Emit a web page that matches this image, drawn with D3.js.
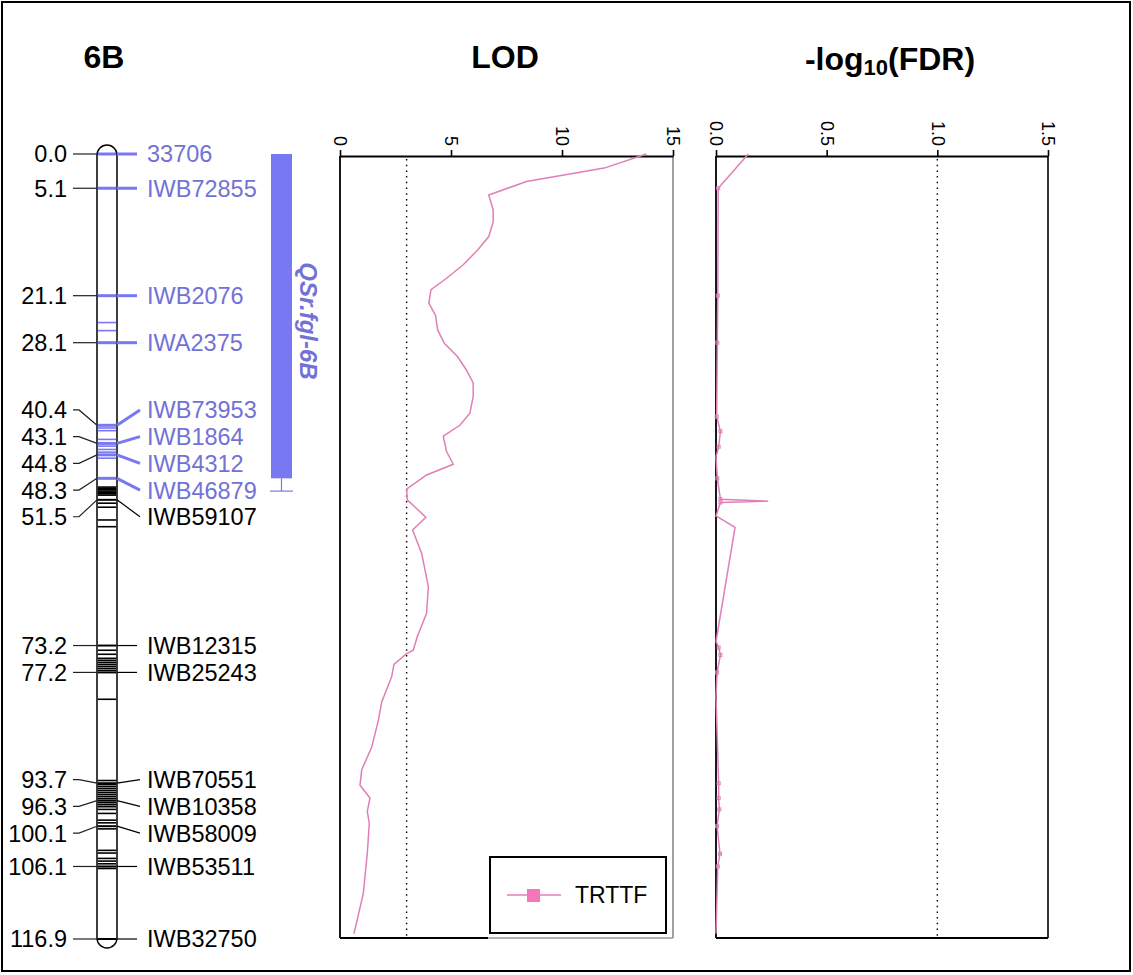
<!DOCTYPE html>
<html><head><meta charset="utf-8">
<script src="https://cdn.jsdelivr.net/npm/d3@7"></script>
<style>body{margin:0;background:#fff} svg{display:block} text{font-family:Arial,"Liberation Sans",sans-serif}</style>
</head><body><svg id="c" width="1133" height="975"></svg>
<script>
// ---------------- data ----------------
const titles = ["6B", "LOD", "-log10(FDR)"];
const markerNames = ["33706","IWB72855","IWB2076","IWA2375","IWB73953","IWB1864","IWB4312","IWB46879","IWB59107","IWB12315","IWB25243","IWB70551","IWB10358","IWB58009","IWB53511","IWB32750"];
const markerCM = [0.0, 5.1, 21.1, 28.1, 40.4, 43.1, 44.8, 48.3, 51.5, 73.2, 77.2, 93.7, 96.3, 100.1, 106.1, 116.9];
const bandCM = [25.1, 26.3, 40.8, 41.2, 42.5, 43.5, 44.0, 44.4, 45.3, 49.6, 49.8, 50.0, 50.2, 50.4, 50.6, 50.8, 52.0, 52.6, 54.5, 55.5,
  73.9, 74.5, 75.1, 75.4, 75.7, 76.0, 76.3, 76.6, 76.9, 81.2,
  93.3, 93.9, 94.2, 94.5, 94.8, 95.1, 95.4, 95.7, 96.0, 96.6, 96.9, 97.2, 97.6, 98.2, 99.2, 99.6, 100.5, 103.7, 104.1, 104.9, 105.3, 105.7, 106.4];
const qtlName = "QSr.fgl-6B";
const qtlStart = 0.0, qtlEnd = 48.3, qtlWhisker = 50.2;
const chromLength = 116.9;

const seriesName = "TRTTF";
const lodCM = [0.0, 2.1, 4.1, 6.1, 8.3, 10.1, 12.3, 14.3, 16.5, 18.5, 20.2, 22.2, 24.0, 26.2, 28.2, 30.2, 32.2, 34.1, 36.1, 38.6, 40.4, 42.0, 44.3, 46.2, 47.8, 49.9, 51.5, 54.1, 56.0, 59.5, 64.4, 68.4, 71.9, 73.9, 74.4, 76.0, 77.8, 81.6, 84.3, 88.3, 91.7, 94.0, 95.9, 97.9, 99.7, 104.1, 110.1, 116.1];
const lodValues = [13.8, 11.9, 8.4, 6.7, 6.9, 6.9, 6.7, 6.2, 5.55, 4.8, 4.1, 4.0, 4.3, 4.4, 4.7, 5.3, 5.7, 6.0, 6.0, 5.85, 5.4, 4.65, 4.8, 5.1, 3.9, 3.0, 3.03, 3.87, 3.27, 3.68, 3.98, 3.9, 3.48, 3.3, 3.0, 2.43, 2.33, 1.88, 1.73, 1.43, 0.98, 0.9, 1.35, 1.23, 1.32, 1.23, 1.05, 0.63];
const fdrCM = [0.0, 5.1, 21.1, 28.1, 39.1, 41.3, 43.6, 45.1, 48.3, 51.4, 51.7, 51.9, 53.9, 55.6, 72.6, 73.5, 74.6, 77.2, 80.8, 93.7, 95.9, 97.6, 100.1, 104.2, 106.1, 116.1];
const fdrValues = [0.146, 0.010, 0.008, 0.006, 0.003, 0.02, 0.012, 0.0, 0.006, 0.02, 0.236, 0.02, 0.0, 0.086, 0.0, 0.012, 0.02, 0.005, 0.0, 0.012, 0.012, 0.015, 0.005, 0.018, 0.008, 0.0];
const lodTicks = [0, 5, 10, 15];
const fdrTicks = [0, 0.5, 1.0, 1.5];
const lodThreshold = 3, fdrThreshold = 1.0;

// ---------------- style / layout ----------------
const BLUE = "#7878f2", BLUE_TXT = "#7272d6", PINK = "#e07fb6", PINK_MK = "#f577b9";
const svg = d3.select("#c");
svg.append("rect").attr("x", 2).attr("y", 2).attr("width", 1128).attr("height", 969)
  .attr("fill", "none").attr("stroke", "#000").attr("stroke-width", 2);

const y = d3.scaleLinear().domain([0, chromLength]).range([154, 939]);
const xLod = d3.scaleLinear().domain([0, 15]).range([340, 673]);
const xFdr = d3.scaleLinear().domain([0, 1.5]).range([716, 1048]);
const panelTop = 156, panelBottom = 938;

// titles
svg.append("text").attr("x", 104).attr("y", 68).attr("text-anchor", "middle")
  .attr("font-size", 32).attr("font-weight", "bold").text(titles[0]);
svg.append("text").attr("x", 505).attr("y", 68).attr("text-anchor", "middle")
  .attr("font-size", 32).attr("font-weight", "bold").text(titles[1]);
const t3 = svg.append("text").attr("x", 890).attr("y", 70).attr("text-anchor", "middle")
  .attr("font-size", 32).attr("font-weight", "bold");
const m = titles[2].match(/^(-log)(10)(.*)$/);
t3.append("tspan").text(m[1]);
t3.append("tspan").attr("font-size", 22).attr("dy", 5).text(m[2]);
t3.append("tspan").attr("dy", -5).text(m[3]);

// ---------------- chromosome ----------------
const cx0 = 97, cx1 = 117;
const g = svg.append("g");
g.append("rect").attr("x", cx0).attr("y", y(0) - 9).attr("width", cx1 - cx0)
  .attr("height", y(chromLength) - y(0) + 18).attr("rx", 10).attr("ry", 10)
  .attr("fill", "#fff").attr("stroke", "#000").attr("stroke-width", 1.5);

// bands
g.selectAll("line.band").data(bandCM).join("line").attr("class", "band")
  .attr("x1", cx0 + 0.8).attr("x2", cx1 - 0.8).attr("y1", d => y(d)).attr("y2", d => y(d))
  .attr("stroke", d => d <= qtlEnd ? BLUE : "#000").attr("stroke-width", 1.6);

// label layout: spread overlapping labels with a minimal gap
const gap = 26.7;
const items = markerCM.map((c, i) => ({ name: markerNames[i], cm: c, y0: y(c), blue: c <= qtlEnd }));
let clusters = items.map(d => ({ items: [d] }));
clusters.forEach(cl => cl.start = cl.items[0].y0);
let changed = true;
while (changed) {
  changed = false;
  for (let i = 0; i < clusters.length - 1; i++) {
    const a = clusters[i], b = clusters[i + 1];
    if (b.start < a.start + (a.items.length) * gap - 0.01) {
      const its = a.items.concat(b.items);
      const mean = d3.mean(its, d => d.y0);
      clusters.splice(i, 2, { items: its, start: mean - (its.length - 1) * gap / 2 });
      changed = true; break;
    }
  }
}
clusters.forEach(cl => cl.items.forEach((d, k) => d.ly = cl.start + k * gap + (cl.items.length > 1 ? 3 : 0)));

const lx = 73, rx = 140;
items.forEach(d => {
  const col = d.blue ? BLUE : "#000";
  g.append("path").attr("fill", "none").attr("stroke", "#222").attr("stroke-width", 1.2)
    .attr("d", Math.abs(d.ly - d.y0) < 1 ? `M${lx},${d.y0}H${cx0}` : `M${lx},${d.ly}H${lx + 6}L${cx0},${d.y0}`);
  g.append("line").attr("x1", cx0 + 0.8).attr("x2", cx1 - 0.8).attr("y1", d.y0).attr("y2", d.y0)
    .attr("stroke", col).attr("stroke-width", d.blue ? 3 : 2);
  g.append("path").attr("fill", "none").attr("stroke", col).attr("stroke-width", d.blue ? 3 : 1.2)
    .attr("d", Math.abs(d.ly - d.y0) < 1 ? `M${cx1},${d.y0}H${rx - 3}` : `M${cx1},${d.y0}L${rx},${d.ly}`);
  g.append("text").attr("x", 67).attr("y", d.ly).attr("dy", "0.36em").attr("text-anchor", "end")
    .attr("font-size", 23.5).attr("fill", "#000").text(d3.format(".1f")(d.cm));
  g.append("text").attr("x", 147).attr("y", d.ly).attr("dy", "0.36em")
    .attr("font-size", 23.5).attr("fill", d.blue ? BLUE_TXT : "#000").text(d.name);
});

// QTL bar
const qx = 271, qw = 21;
g.append("rect").attr("x", qx).attr("y", y(qtlStart)).attr("width", qw)
  .attr("height", y(qtlEnd) - y(qtlStart)).attr("fill", BLUE);
g.append("line").attr("x1", qx + qw / 2).attr("x2", qx + qw / 2).attr("y1", y(qtlEnd)).attr("y2", y(qtlWhisker))
  .attr("stroke", BLUE).attr("stroke-width", 1.2);
g.append("line").attr("x1", qx - 1).attr("x2", qx + qw + 1).attr("y1", y(qtlWhisker)).attr("y2", y(qtlWhisker))
  .attr("stroke", BLUE).attr("stroke-width", 1.2);
g.append("text").attr("transform", `translate(${qx + qw + 8},321) rotate(90)`)
  .attr("text-anchor", "middle").attr("font-size", 24).attr("font-weight", "bold").attr("font-style", "italic")
  .attr("fill", BLUE_TXT).text(qtlName);

// ---------------- panels ----------------
function panel(x, ticks, fmt, threshold, cms, vals, rightCol, bottomSplit) {
  const p = svg.append("g");
  p.append("line").attr("x1", x(threshold)).attr("x2", x(threshold)).attr("y1", panelTop + 3).attr("y2", panelBottom)
    .attr("stroke", "#000").attr("stroke-width", 1.4).attr("stroke-dasharray", "1.5,4.2");
  p.append("line").attr("x1", x.range()[0]).attr("x2", x.range()[0]).attr("y1", panelTop).attr("y2", panelBottom)
    .attr("stroke", "#000").attr("stroke-width", 1.8);
  p.append("line").attr("x1", x.range()[1]).attr("x2", x.range()[1]).attr("y1", panelTop).attr("y2", panelBottom)
    .attr("stroke", rightCol).attr("stroke-width", 1.6);
  if (bottomSplit) {
    p.append("line").attr("x1", x.range()[0]).attr("x2", bottomSplit).attr("y1", panelBottom).attr("y2", panelBottom)
      .attr("stroke", "#000").attr("stroke-width", 1.8);
    p.append("line").attr("x1", bottomSplit).attr("x2", x.range()[1]).attr("y1", panelBottom).attr("y2", panelBottom)
      .attr("stroke", "#9a9a9a").attr("stroke-width", 1.6);
  } else {
    p.append("line").attr("x1", x.range()[0]).attr("x2", x.range()[1]).attr("y1", panelBottom).attr("y2", panelBottom)
      .attr("stroke", "#000").attr("stroke-width", 1.8);
  }
  const ax = p.append("g").attr("transform", `translate(0,${panelTop})`)
    .call(d3.axisTop(x).tickValues(ticks).tickFormat(fmt).tickSize(6).tickSizeOuter(0).tickPadding(0));
  ax.select(".domain").attr("stroke-width", 1.8);
  ax.selectAll(".tick line").attr("stroke-width", 1.6);
  ax.selectAll(".tick text").attr("font-size", 18).attr("font-family", "Arial, 'Liberation Sans', sans-serif")
    .attr("fill", "#000").attr("text-anchor", "end")
    .attr("transform", "translate(0,-10) rotate(90)").attr("x", 0).attr("y", 0).attr("dy", "0.35em");
  const pts = cms.map((c, i) => [x(vals[i]), y(c)]);
  p.append("path").attr("d", d3.line()(pts)).attr("fill", "none").attr("stroke", PINK).attr("stroke-width", 1.5);
  return { p, pts };
}
panel(xLod, lodTicks, d3.format("d"), lodThreshold, lodCM, lodValues, "#8a8a8a", 488);
const fp = panel(xFdr, fdrTicks, d3.format(".1f"), fdrThreshold, fdrCM, fdrValues, "#000", null);
fp.p.selectAll("rect.pt").data(fdrCM.map((c, i) => ({ c, v: fdrValues[i] })).filter(d => d.v > 0 && d.v < 0.03))
  .join("rect").attr("class", "pt")
  .attr("x", d => xFdr(d.v) - 1.5).attr("y", d => y(d.c) - 1.5).attr("width", 3).attr("height", 3)
  .attr("fill", "none").attr("stroke", PINK).attr("stroke-width", 1);

// legend
const lg = svg.append("g");
lg.append("rect").attr("x", 490).attr("y", 857).attr("width", 176).attr("height", 76)
  .attr("fill", "#fff").attr("stroke", "#000").attr("stroke-width", 2);
lg.append("line").attr("x1", 507).attr("x2", 561).attr("y1", 895).attr("y2", 895).attr("stroke", PINK).attr("stroke-width", 1.5);
lg.append("rect").attr("x", 527).attr("y", 889).attr("width", 13).attr("height", 13).attr("fill", PINK_MK);
lg.append("text").attr("x", 575).attr("y", 895).attr("dy", "0.36em").attr("font-size", 23).text(seriesName);
</script></body></html>
